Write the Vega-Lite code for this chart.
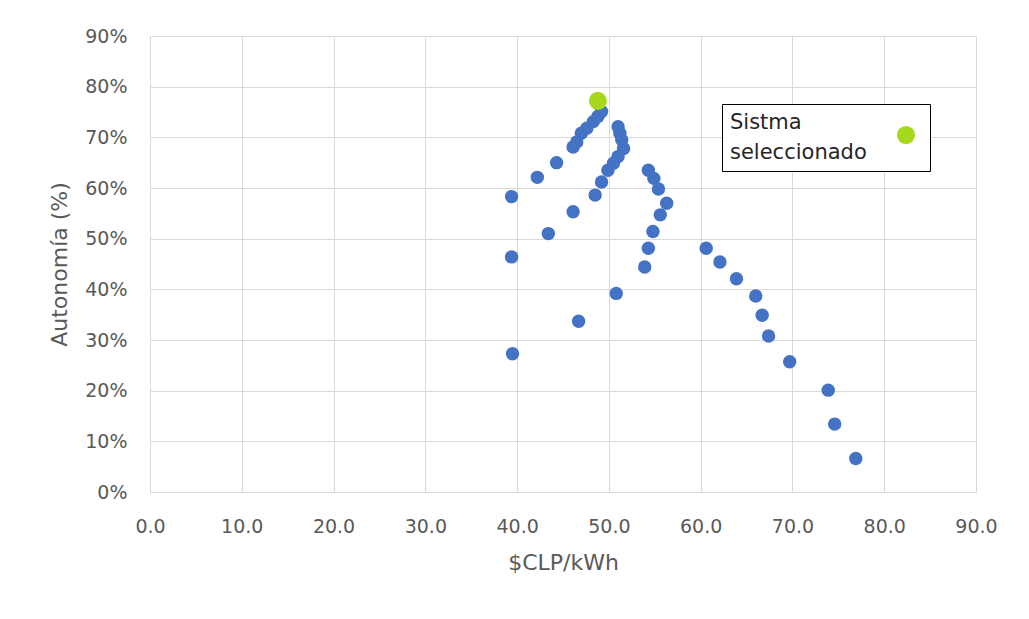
{
  "$schema": "https://vega.github.io/schema/vega-lite/v6.json",
  "width": 826,
  "height": 456,
  "autosize": "none",
  "padding": {"left": 150, "top": 36, "right": 53, "bottom": 127},
  "background": "white",
  "config": {
    "view": {"stroke": null},
    "font": "DejaVu Sans",
    "axis": {
      "labelFont": "DejaVu Sans",
      "titleFont": "DejaVu Sans",
      "labelColor": "#595959",
      "titleColor": "#595959",
      "labelFontSize": 19,
      "titleFontSize": 22,
      "titleFontWeight": "normal",
      "gridColor": "#d9d9d9",
      "gridWidth": 1,
      "ticks": false,
      "domain": false
    }
  },
  "data": {
    "values": [
      {"costo": 39.4, "autonomia": 0.583, "serie": "Sistemas"},
      {"costo": 42.2, "autonomia": 0.621, "serie": "Sistemas"},
      {"costo": 44.3, "autonomia": 0.650, "serie": "Sistemas"},
      {"costo": 46.1, "autonomia": 0.681, "serie": "Sistemas"},
      {"costo": 46.5, "autonomia": 0.691, "serie": "Sistemas"},
      {"costo": 47.0, "autonomia": 0.708, "serie": "Sistemas"},
      {"costo": 47.6, "autonomia": 0.718, "serie": "Sistemas"},
      {"costo": 48.3, "autonomia": 0.731, "serie": "Sistemas"},
      {"costo": 48.8, "autonomia": 0.741, "serie": "Sistemas"},
      {"costo": 49.2, "autonomia": 0.751, "serie": "Sistemas"},
      {"costo": 51.0, "autonomia": 0.721, "serie": "Sistemas"},
      {"costo": 51.2, "autonomia": 0.708, "serie": "Sistemas"},
      {"costo": 51.4, "autonomia": 0.695, "serie": "Sistemas"},
      {"costo": 51.6, "autonomia": 0.678, "serie": "Sistemas"},
      {"costo": 51.0, "autonomia": 0.662, "serie": "Sistemas"},
      {"costo": 50.5, "autonomia": 0.649, "serie": "Sistemas"},
      {"costo": 49.9, "autonomia": 0.635, "serie": "Sistemas"},
      {"costo": 49.2, "autonomia": 0.612, "serie": "Sistemas"},
      {"costo": 48.5, "autonomia": 0.586, "serie": "Sistemas"},
      {"costo": 46.1, "autonomia": 0.553, "serie": "Sistemas"},
      {"costo": 43.4, "autonomia": 0.510, "serie": "Sistemas"},
      {"costo": 39.4, "autonomia": 0.464, "serie": "Sistemas"},
      {"costo": 50.8, "autonomia": 0.392, "serie": "Sistemas"},
      {"costo": 46.7, "autonomia": 0.337, "serie": "Sistemas"},
      {"costo": 39.5, "autonomia": 0.273, "serie": "Sistemas"},
      {"costo": 54.3, "autonomia": 0.635, "serie": "Sistemas"},
      {"costo": 54.9, "autonomia": 0.619, "serie": "Sistemas"},
      {"costo": 55.4, "autonomia": 0.598, "serie": "Sistemas"},
      {"costo": 56.3, "autonomia": 0.570, "serie": "Sistemas"},
      {"costo": 55.6, "autonomia": 0.547, "serie": "Sistemas"},
      {"costo": 54.8, "autonomia": 0.514, "serie": "Sistemas"},
      {"costo": 54.3, "autonomia": 0.481, "serie": "Sistemas"},
      {"costo": 53.9, "autonomia": 0.444, "serie": "Sistemas"},
      {"costo": 60.6, "autonomia": 0.481, "serie": "Sistemas"},
      {"costo": 62.1, "autonomia": 0.454, "serie": "Sistemas"},
      {"costo": 63.9, "autonomia": 0.421, "serie": "Sistemas"},
      {"costo": 66.0, "autonomia": 0.387, "serie": "Sistemas"},
      {"costo": 66.7, "autonomia": 0.349, "serie": "Sistemas"},
      {"costo": 67.4, "autonomia": 0.308, "serie": "Sistemas"},
      {"costo": 69.7, "autonomia": 0.257, "serie": "Sistemas"},
      {"costo": 73.9, "autonomia": 0.201, "serie": "Sistemas"},
      {"costo": 74.6, "autonomia": 0.134, "serie": "Sistemas"},
      {"costo": 76.9, "autonomia": 0.066, "serie": "Sistemas"},
      {"costo": 48.8, "autonomia": 0.772, "serie": "Sistma seleccionado"}
    ]
  },
  "mark": {"type": "point", "filled": true, "opacity": 1, "shape": "circle"},
  "encoding": {
    "x": {
      "field": "costo",
      "type": "quantitative",
      "scale": {"domain": [0, 90], "nice": false},
      "axis": {"values": [0, 10, 20, 30, 40, 50, 60, 70, 80, 90], "format": ".1f", "title": "$CLP/kWh", "labelPadding": 25, "titlePadding": 16, "labelFlush": false}
    },
    "y": {
      "field": "autonomia",
      "type": "quantitative",
      "scale": {"domain": [0, 0.9], "nice": false},
      "axis": {"values": [0, 0.1, 0.2, 0.3, 0.4, 0.5, 0.6, 0.7, 0.8, 0.9], "format": ".0%", "title": "Autonomía (%)", "labelPadding": 23, "titlePadding": 13, "labelFlush": false}
    },
    "color": {
      "field": "serie",
      "type": "nominal",
      "scale": {"domain": ["Sistemas", "Sistma seleccionado"], "range": ["#4472c4", "#a6d81c"]},
      "legend": {
        "values": ["Sistma seleccionado"],
        "title": ["Sistma", "seleccionado"],
        "titleOrient": "left",
        "titleAnchor": "start",
        "titleBaseline": "top",
        "titleFont": "DejaVu Sans",
        "titleFontSize": 21,
        "titleFontWeight": "normal",
        "titleColor": "#262626",
        "titleLineHeight": 30,
        "titlePadding": 16,
        "titleLimit": 400,
        "orient": "none",
        "legendX": 572,
        "legendY": 68,
        "strokeColor": "#000000",
        "fillColor": "#ffffff",
        "padding": 8,
        "labelExpr": "''",
        "labelFontSize": 46,
        "labelOffset": -7,
        "symbolSize": 350,
        "symbolType": "circle"
      }
    },
    "size": {
      "field": "serie",
      "type": "nominal",
      "scale": {"domain": ["Sistemas", "Sistma seleccionado"], "range": [180, 330]},
      "legend": null
    },
    "order": {"field": "serie", "sort": "ascending"}
  }
}
